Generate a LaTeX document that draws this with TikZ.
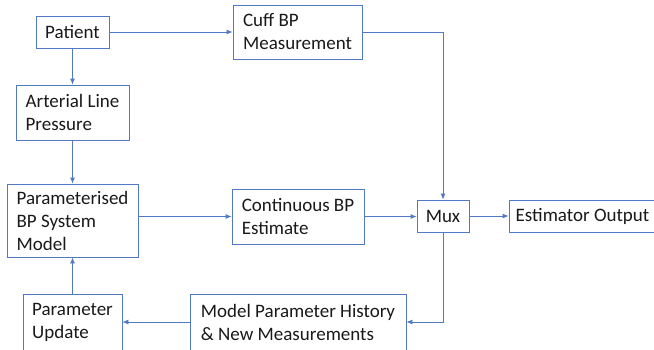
\documentclass[tikz,border=0pt]{standalone}
\usepackage{fontspec}
\setmainfont{Carlito}
\usepackage{tikz}
\usetikzlibrary{arrows.meta,positioning}
\usepackage{xcolor}
\definecolor{lineblue}{RGB}{82,122,196}
\definecolor{textgray}{RGB}{25,25,25}
\tikzstyle{arrow} = [line width=0.8pt,->,>={Latex[length=6pt,width=5pt]},color=lineblue]
\tikzstyle{blk} = [rectangle, draw=lineblue, line width=0.8pt, align=left, text=textgray, inner sep=0pt, font=\fontsize{19}{23}\selectfont]

\begin{document}
\begin{tikzpicture}[x=1pt,y=-1pt]
\useasboundingbox (0,0) rectangle (654,349);

% Left column
\node (patient) [blk, minimum width=73pt, minimum height=32pt] at (72.5,32) {Patient};
\node (arterial) [blk, minimum width=113pt, minimum height=55pt] at (72.5,112.5) {Arterial Line\\Pressure};
\node (model) [blk, minimum width=131pt, minimum height=73pt] at (72.5,220.5) {Parameterised\\BP System\\Model};
\node (update) [blk, minimum width=99pt, minimum height=56pt] at (72.5,322) {Parameter\\Update};

% Middle column
\node (cuff) [blk, minimum width=129pt, minimum height=54pt] at (297.5,32) {Cuff BP\\Measurement};
\node (cont) [blk, minimum width=132pt, minimum height=55pt] at (298,216.5) {Continuous BP\\Estimate};
\node (history) [blk, minimum width=216pt, minimum height=56pt] at (298,322) {Model Parameter History\\\& New Measurements};

% Mux and output
\node (mux) [blk, minimum width=52pt, minimum height=32pt] at (443,216) {Mux};
\node (output) [blk, minimum width=147pt, minimum height=32pt] at (582.5,216) {Estimator Output};

% Signal path
\draw[arrow] (patient) -- (cuff);
\draw[arrow] (patient) -- (arterial);
\draw[arrow] (arterial) -- (model);
\draw[arrow] (cont.west -| model.east) -- (cont.west);
\draw[arrow] (cont.east) -- (cont.east -| mux.west);
\draw[arrow] (mux) -- (output);
\draw[arrow] (cuff.east) -| (mux.north);

% Feedback loop
\draw[arrow] (mux.south) |- (history.east);
\draw[arrow] (history) -- (update);
\draw[arrow] (update) -- (model);
\end{tikzpicture}
\end{document}
